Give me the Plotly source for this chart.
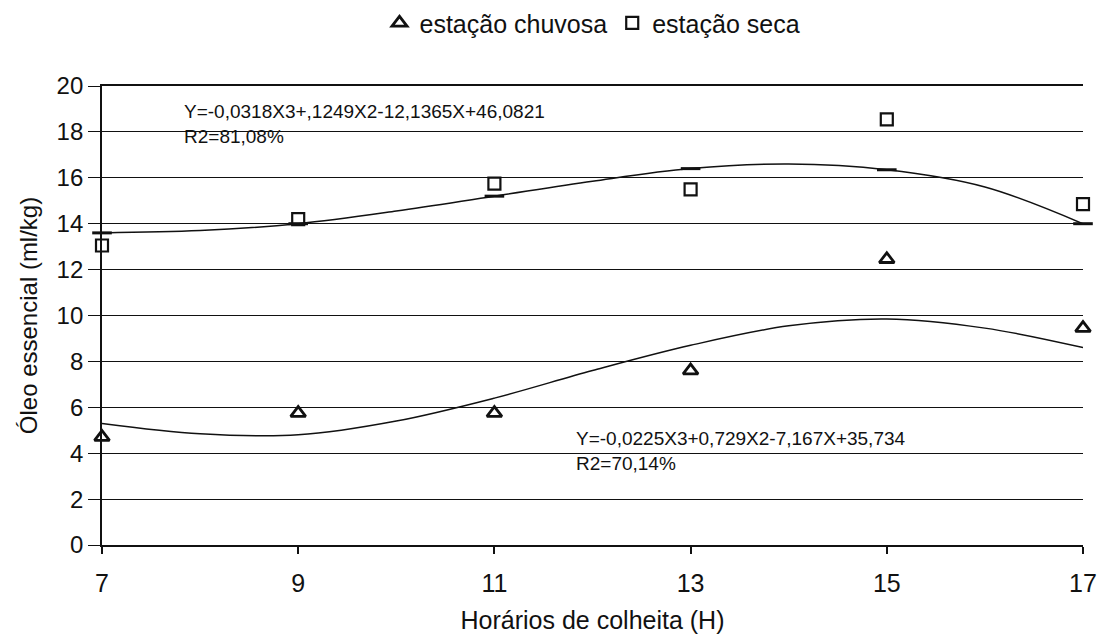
import plotly.graph_objects as go

# Harvest hours and essential-oil yield (ml/kg) per season
hours = [7, 9, 11, 13, 15, 17]
chuvosa = [4.7, 5.75, 5.75, 7.6, 12.45, 9.45]
seca = [13.05, 14.2, 15.75, 15.5, 18.55, 14.85]

# Fitted cubic trend, read hour by hour
fit_hours = [7, 8, 9, 10, 11, 12, 13, 14, 15, 16, 17]
seca_fit = [13.6, 13.7, 14.0, 14.55, 15.2, 15.85, 16.4, 16.6, 16.35, 15.6, 14.0]
chuvosa_fit = [5.3, 4.85, 4.8, 5.4, 6.4, 7.6, 8.7, 9.55, 9.85, 9.45, 8.6]

y_ticks = [0, 2, 4, 6, 8, 10, 12, 14, 16, 18, 20]

eq_seca = "Y=-0,0318X3+,1249X2-12,1365X+46,0821<br>R2=81,08%"
eq_chuvosa = "Y=-0,0225X3+0,729X2-7,167X+35,734<br>R2=70,14%"

FONT = "Liberation Sans, Arial, sans-serif"
INK = "#111111"

fig = go.Figure()

# Trend curves
fig.add_trace(go.Scatter(
    x=fit_hours, y=seca_fit, mode="lines",
    line=dict(color=INK, width=1.5, shape="spline", smoothing=1.0),
    showlegend=False, hoverinfo="skip", cliponaxis=False,
))
fig.add_trace(go.Scatter(
    x=fit_hours, y=chuvosa_fit, mode="lines",
    line=dict(color=INK, width=1.5, shape="spline", smoothing=1.0),
    showlegend=False, hoverinfo="skip", cliponaxis=False,
))
# Fitted values of the dry season at each sampled hour
fit_at_hours = [v for h, v in zip(fit_hours, seca_fit) if h in hours]
fig.add_trace(go.Scatter(
    x=hours, y=fit_at_hours, mode="markers",
    marker=dict(symbol="line-ew", size=14, line=dict(color=INK, width=3)),
    showlegend=False, hoverinfo="skip", cliponaxis=False,
))

# Observed values
fig.add_trace(go.Scatter(
    x=hours, y=chuvosa, mode="markers", name="estação chuvosa",
    marker=dict(symbol="triangle-up-open", size=13, color=INK,
                line=dict(color=INK, width=2.8)),
    cliponaxis=False,
))
fig.add_trace(go.Scatter(
    x=hours, y=seca, mode="markers", name="estação seca",
    marker=dict(symbol="square-open", size=12, color=INK,
                line=dict(color=INK, width=2.2)),
    cliponaxis=False,
))

fig.add_annotation(
    x=7.82, y=18.35, xref="x", yref="y", text=eq_seca, showarrow=False,
    xanchor="left", yanchor="middle", align="left",
    font=dict(family=FONT, size=19, color=INK),
)
fig.add_annotation(
    x=11.81, y=4.1, xref="x", yref="y", text=eq_chuvosa, showarrow=False,
    xanchor="left", yanchor="middle", align="left",
    font=dict(family=FONT, size=19, color=INK),
)

fig.update_layout(
    width=1099, height=634,
    margin=dict(l=102, r=16, t=86, b=89, autoexpand=False),
    paper_bgcolor="white", plot_bgcolor="white",
    font=dict(family=FONT, size=24, color=INK),
    legend=dict(
        orientation="h", x=0.5, xanchor="center", y=1.137, yanchor="middle",
        font=dict(family=FONT, size=25, color=INK),
        itemwidth=30, itemclick=False, bgcolor="rgba(0,0,0,0)",
    ),
    xaxis=dict(
        range=[7, 17], tickvals=hours, ticktext=[str(h) for h in hours],
        showgrid=False, zeroline=False,
        showline=True, linecolor=INK, linewidth=1.5, mirror=True,
        ticks="outside", ticklen=7, tickwidth=1.5, tickcolor=INK,
        tickfont=dict(family=FONT, size=25, color=INK),
        ticklabelstandoff=8,
        title=dict(text="Horários de colheita (H)",
                   font=dict(family=FONT, size=25, color=INK), standoff=19),
    ),
    yaxis=dict(
        range=[0, 20], tickvals=y_ticks,
        showgrid=True, gridcolor=INK, gridwidth=1.4, zeroline=False,
        showline=True, linecolor=INK, linewidth=1.8,
        ticks="outside", ticklen=12, tickwidth=1.4, tickcolor=INK,
        tickfont=dict(family=FONT, size=24, color=INK),
        title=dict(text="Óleo essencial (ml/kg)",
                   font=dict(family=FONT, size=24, color=INK), standoff=12),
    ),
)

fig.write_html("out.html")
